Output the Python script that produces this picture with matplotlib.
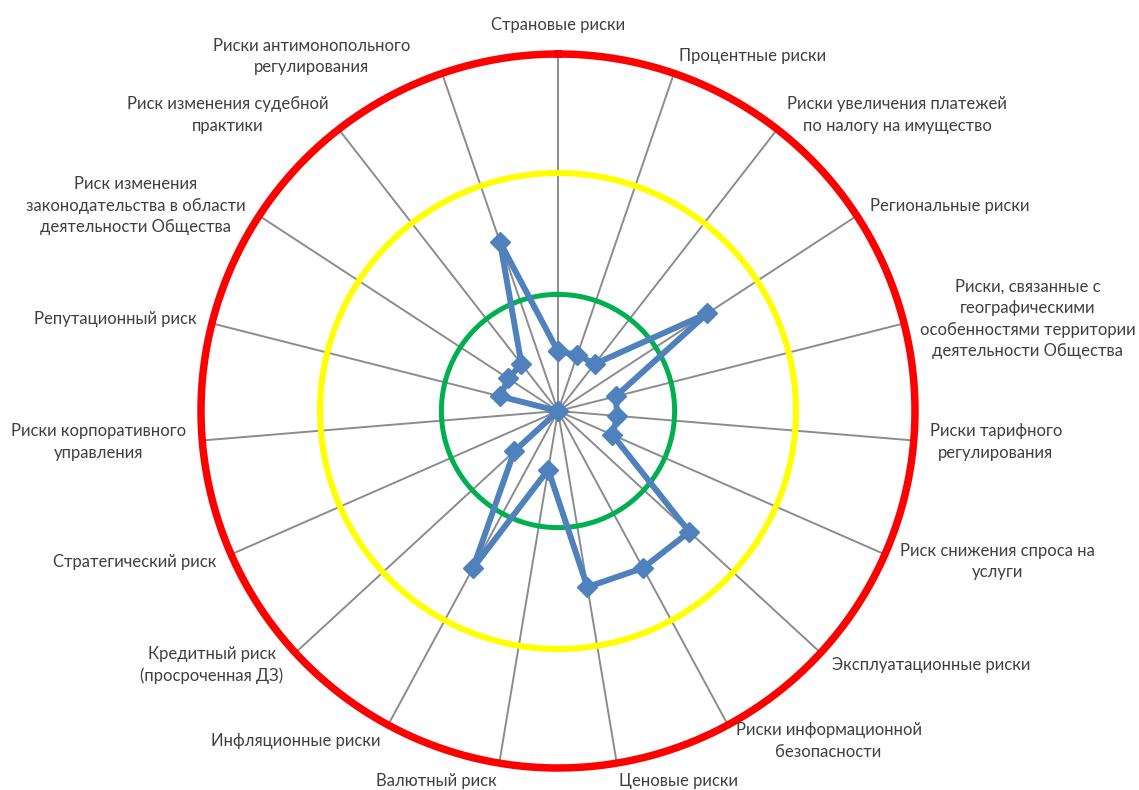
import numpy as np
import matplotlib
matplotlib.use("Agg")
import matplotlib.pyplot as plt

# categories clockwise from the top
categories = [
    "Страновые риски",
    "Процентные риски",
    "Риски увеличения платежей\nпо налогу на имущество",
    "Региональные риски",
    "Риски, связанные с\nгеографическими\nособенностями территории\nдеятельности Общества",
    "Риски тарифного\nрегулирования",
    "Риск снижения спроса на\nуслуги",
    "Эксплуатационные риски",
    "Риски информационной\nбезопасности",
    "Ценовые риски",
    "Валютный риск",
    "Инфляционные риски",
    "Кредитный риск\n(просроченная ДЗ)",
    "Стратегический риск",
    "Риски корпоративного\nуправления",
    "Репутационный риск",
    "Риск изменения\nзаконодательства в области\nдеятельности Общества",
    "Риск изменения судебной\nпрактики",
    "Риски антимонопольного\nрегулирования",
]
risk_values = [0.5, 0.5, 0.5, 1.5, 0.5, 0.5, 0.5, 1.5, 1.5, 1.5,
               0.5, 1.5, 0.5, 0.0, 0.0, 0.5, 0.5, 0.5, 1.5]

# threshold rings
ring_levels = [0.98, 2.0, 3.0]
ring_colors = ["#00B050", "#FFFF00", "#FF0000"]
ring_widths = [3.6, 4.4, 5.4]

r_max = 3.0
r_lim = 3.1

W, H = 1139, 790
cx, cy = 558, 411           # centre in pixels (from top-left)
unit_px = 357 / r_max
half = unit_px * r_lim

fig = plt.figure(figsize=(W / 100, H / 100), dpi=100)
ax = fig.add_axes([(cx - half) / W, (H - cy - half) / H, 2 * half / W, 2 * half / H],
                  projection="polar")
ax.set_theta_zero_location("N")
ax.set_theta_direction(-1)
ax.set_ylim(0, r_lim)
ax.grid(False)
ax.set_xticks([])
ax.set_yticks([])
ax.spines["polar"].set_visible(False)
ax.patch.set_alpha(0)

n = len(categories)
theta = np.arange(n) * 2 * np.pi / n

# spokes
for t in theta:
    ax.plot([t, t], [0, r_max], color="#8C8C8C", lw=1.4, zorder=1)

# rings
tt = np.linspace(0, 2 * np.pi, 721)
for lvl, col, lw in zip(ring_levels, ring_colors, ring_widths):
    ax.plot(tt, np.full_like(tt, lvl), color=col, lw=lw, zorder=2, clip_on=False)

# risk profile
th_c = np.append(theta, theta[0])
vals_c = np.append(risk_values, risk_values[0])
ax.plot(th_c, vals_c, color="#4F81BD", lw=4.3, marker="D", ms=10,
        markeredgecolor="#4F81BD", zorder=4, solid_joinstyle="miter")

# category labels, placed the way Excel does
nudges = {0: (0, 11), 18: (-27, 0)}
for i, (t, lab) in enumerate(zip(theta, categories)):
    s, c = np.sin(t), np.cos(t)
    if s > 0.05:
        ha = "left"
    elif s < -0.05:
        ha = "right"
    else:
        ha = "center"
    dx = 16 * s
    dy = 18 * c
    ndx, ndy = nudges.get(i, (0, 0))
    ax.annotate(lab, xy=(t, r_max), xytext=(dx + ndx, dy + ndy),
                textcoords="offset pixels", ha=ha, va="center",
                multialignment="center", fontsize=12, family="Lato",
                color="#404040", annotation_clip=False, linespacing=1.42)

fig.savefig("out.png", dpi=100)
